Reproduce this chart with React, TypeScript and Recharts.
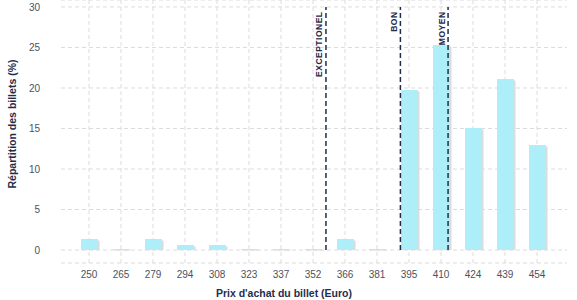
import React from "react"
import { BarChart, Bar, XAxis, YAxis, CartesianGrid, ReferenceLine } from "recharts"

const prices = ["250", "265", "279", "294", "308", "323", "337", "352", "366", "381", "395", "410", "424", "439", "454"]
const shares = [1.36, 0.12, 1.36, 0.62, 0.62, 0.12, 0.12, 0.12, 1.36, 0.12, 19.75, 25.3, 15.06, 21.1, 12.96]
const yTicks = [0, 5, 10, 15, 20, 25, 30]

// seuils de prix (lignes verticales)
const thresholdNames = ["EXCEPTIONEL", "BON", "MOYEN"]
const thresholdPrices = [357.9, 391.8, 413.5]

// position of each category on the hidden price axis (even steps, like the bands)
const step = (454 - 250) / (prices.length - 1)
const data = prices.map((p, i) => ({ price: p, share: shares[i], pos: 250 + i * step }))

const PAD_L = 12
const PAD_R = 14
const NAVY = "#1f2d4b"
const TICK = "#4b5262"
const FONT = "'Liberation Sans', Arial, sans-serif"

const ShadowBar = (props: any) => {
  const { x, y, width, height } = props
  if (!height || height <= 0) return null
  return (
    <g>
      <rect x={x + 1.5} y={y + 1.5} width={width} height={Math.max(height - 1.5, 0.5)} fill="#dcdcdc" />
      <rect x={x} y={y} width={width} height={height} fill="#aeeef8" />
    </g>
  )
}

const thresholdLabel = (text: string) => (props: any) => {
  const { viewBox } = props
  const lx = viewBox.x - 3.5
  const ly = viewBox.y + 4.5
  return (
    <text
      x={lx}
      y={ly}
      transform={`rotate(-90, ${lx}, ${ly})`}
      textAnchor="end"
      fontFamily={FONT}
      fontSize={8.5}
      fontWeight="bold"
      letterSpacing={0.5}
      fill={NAVY}
    >
      {text}
    </text>
  )
}

// vertical grid only at band centres (no line on the plot edges)
const verticalGrid = ({ offset }: any) => {
  if (!offset) return []
  const band = (offset.width - PAD_L - PAD_R) / prices.length
  return prices.map((_, i) => offset.left + PAD_L + band * (i + 0.5))
}

export default function App() {
  return (
    <div style={{ position: "absolute", left: 0, top: 0, width: 577, height: 300, background: "#fff" }}>
      <BarChart width={577} height={300} data={data} margin={{ top: 0, right: 10, left: 0, bottom: 7 }}>
        <CartesianGrid stroke="#dcdcdc" strokeDasharray="4 3" verticalCoordinatesGenerator={verticalGrid} />
        <XAxis
          dataKey="price"
          padding={{ left: PAD_L, right: PAD_R }}
          axisLine={false}
          tickLine={false}
          interval={0}
          tick={{ fill: TICK, fontSize: 10, fontFamily: FONT }}
          label={{
            content: () => (
              <text x={284} y={297} textAnchor="middle" fontFamily={FONT} fontSize={10.5} fontWeight="bold" fill={NAVY}>
                Prix d'achat du billet (Euro)
              </text>
            ),
          }}
        />
        <XAxis
          xAxisId="price"
          dataKey="pos"
          type="number"
          domain={[250 - step / 2, 454 + step / 2]}
          padding={{ left: PAD_L, right: PAD_R }}
          allowDataOverflow
          hide
        />
        <YAxis
          width={61}
          domain={[-1.6, 30.86]}
          ticks={yTicks}
          allowDataOverflow
          axisLine={false}
          tickLine={false}
          tickMargin={15}
          tick={{ fill: TICK, fontSize: 10, fontFamily: FONT }}
          label={{
            content: () => (
              <text
                x={16}
                y={124}
                transform="rotate(-90, 16, 124)"
                textAnchor="middle"
                fontFamily={FONT}
                fontSize={10.5}
                fontWeight="bold"
                fill={NAVY}
              >
                Répartition des billets (%)
              </text>
            ),
          }}
        />
        <Bar dataKey="share" barSize={17} shape={<ShadowBar />} isAnimationActive={false} />
        {thresholdPrices.map((p, i) => (
          <ReferenceLine
            key={thresholdNames[i]}
            xAxisId="price"
            segment={[{ x: p, y: 0 }, { x: p, y: 30 }]}
            stroke={NAVY}
            strokeWidth={1.5}
            strokeDasharray="5 3"
            label={thresholdLabel(thresholdNames[i])}
          />
        ))}
      </BarChart>
    </div>
  )
}
